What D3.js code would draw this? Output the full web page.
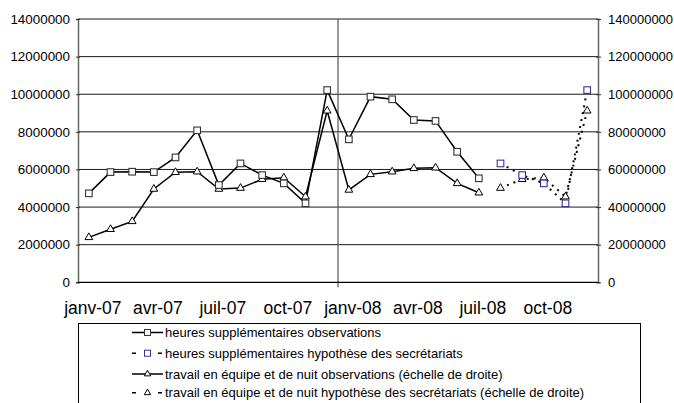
<!DOCTYPE html>
<html>
<head>
<meta charset="utf-8">
<script src="https://cdn.jsdelivr.net/npm/d3@7"></script>
<style>
  body { margin: 0; background: #fff; }
  svg { font-family: "Liberation Sans", Arial, sans-serif; }
</style>
</head>
<body>
<svg id="chart" width="674" height="403"></svg>
<script>
// ---------------------------//
//            DATA            //
// ---------------------------//

var months = ["janv-07", "févr-07", "mars-07", "avr-07", "mai-07", "juin-07",
              "juil-07", "août-07", "sept-07", "oct-07", "nov-07", "déc-07",
              "janv-08", "févr-08", "mars-08", "avr-08", "mai-08", "juin-08",
              "juil-08", "août-08", "sept-08", "oct-08", "nov-08", "déc-08"];

var tickLabels = ["janv-07", "avr-07", "juil-07", "oct-07", "janv-08", "avr-08", "juil-08", "oct-08"];

// heures supplémentaires (left scale)
var heuresObs = [4730000, 5860000, 5880000, 5860000, 6640000, 8080000, 5170000, 6320000,
                 5700000, 5260000, 4200000, 10220000, 7600000, 9870000, 9730000, 8630000,
                 8580000, 6940000, 5530000, null, null, null, null, null];
var heuresHyp = [null, null, null, null, null, null, null, null, null, null, null, null,
                 null, null, null, null, null, null, null,
                 6320000, 5700000, 5260000, 4200000, 10220000];

// travail en équipe et de nuit (right scale)
var travailObs = [23900000, 28200000, 32400000, 49600000, 58500000, 58800000, 49600000, 50100000,
                  54800000, 55600000, 45500000, 91200000, 49100000, 57400000, 58800000, 60600000,
                  60900000, 52600000, 47600000, null, null, null, null, null];
var travailHyp = [null, null, null, null, null, null, null, null, null, null, null, null,
                  null, null, null, null, null, null, null,
                  50100000, 54800000, 55600000, 45500000, 91200000];

var leftTicks = [0, 2000000, 4000000, 6000000, 8000000, 10000000, 12000000, 14000000];
var rightTicks = [0, 20000000, 40000000, 60000000, 80000000, 100000000, 120000000, 140000000];

var legendLabels = ["heures supplémentaires observations",
                    "heures supplémentaires hypothèse des secrétariats",
                    "travail en équipe et de nuit observations (échelle de droite)",
                    "travail en équipe et de nuit hypothèse des secrétariats (échelle de droite)"];

// ---------------------------//
//         DIMENSIONS         //
// ---------------------------//

var plot = { left: 78, right: 598, top: 19, bottom: 282.3 };
var font = "'Liberation Sans', Arial, sans-serif";

var svg = d3.select("#chart");

// ---------------------------//
//       AXIS  AND SCALE      //
// ---------------------------//

var x = d3.scaleBand()
    .domain(months)
    .range([plot.left, plot.right])
    .padding(0);
var cx = function(m) { return x(m) + x.bandwidth() / 2; };

var yLeft = d3.scaleLinear().domain([0, 14000000]).range([plot.bottom, plot.top]);
var yRight = d3.scaleLinear().domain([0, 140000000]).range([plot.bottom, plot.top]);

// horizontal gridlines
svg.append("g")
    .selectAll("line")
    .data(leftTicks.slice(1))
    .enter().append("line")
    .attr("x1", plot.left)
    .attr("x2", plot.right)
    .attr("y1", d => yLeft(d))
    .attr("y2", d => yLeft(d))
    .attr("stroke", "#1a1a1a")
    .attr("stroke-width", 1);

// vertical gridline (janv-08)
svg.append("line")
    .attr("x1", x(months[12]))
    .attr("x2", x(months[12]))
    .attr("y1", plot.top)
    .attr("y2", plot.bottom + 5)
    .attr("stroke", "#555")
    .attr("stroke-width", 1.2);

// left axis
var gLeft = svg.append("g")
    .attr("transform", "translate(" + plot.left + ",0)")
    .call(d3.axisLeft(yLeft).tickValues(leftTicks).tickFormat(d3.format("d")).tickSize(2).tickPadding(6));
gLeft.attr("font-family", font);
gLeft.select(".domain").attr("stroke", "#666").attr("stroke-width", 1.5);
gLeft.selectAll(".tick line").attr("x1", 2).attr("x2", -2).attr("stroke", "#333");
gLeft.selectAll("text").style("font-size", "13.4px").attr("fill", "#000");

// right axis
var gRight = svg.append("g")
    .attr("transform", "translate(" + plot.right + ",0)")
    .call(d3.axisRight(yRight).tickValues(rightTicks).tickFormat(d3.format("d")).tickSize(2).tickPadding(8));
gRight.attr("font-family", font);
gRight.select(".domain").attr("stroke", "#666").attr("stroke-width", 1.5);
gRight.selectAll(".tick line").attr("x1", -2).attr("x2", 3).attr("stroke", "#333");
gRight.selectAll("text").style("font-size", "13px").attr("fill", "#000");

// bottom axis line
svg.append("line")
    .attr("x1", plot.left)
    .attr("x2", plot.right)
    .attr("y1", plot.bottom)
    .attr("y2", plot.bottom)
    .attr("stroke", "#000")
    .attr("stroke-width", 1.2);

// x tick labels, every 3 months
svg.append("g")
    .selectAll("text")
    .data(tickLabels)
    .enter().append("text")
    .attr("x", d => cx(d) + 4)
    .attr("y", 314)
    .attr("text-anchor", "middle")
    .style("font-size", "17.5px")
    .text(d => d);

// ---------------------------//
//           DRAWING          //
// ---------------------------//

function series(values) {
    return months.map((m, i) => ({ m: m, v: values[i] })).filter(d => d.v !== null);
}

function drawLine(values, yScale, dashed) {
    var line = d3.line().x(d => cx(d.m)).y(d => yScale(d.v));
    svg.append("path")
        .datum(series(values))
        .attr("d", line)
        .attr("fill", "none")
        .attr("stroke", "#000")
        .attr("stroke-width", dashed ? 2 : 1.5)
        .attr("stroke-dasharray", dashed ? "2,5" : null);
}

function drawSquares(values, yScale, color) {
    svg.append("g")
        .selectAll("rect")
        .data(series(values))
        .enter().append("rect")
        .attr("x", d => cx(d.m) - 3.3)
        .attr("y", d => yScale(d.v) - 3.3)
        .attr("width", 6.6)
        .attr("height", 6.6)
        .attr("fill", "#fff")
        .attr("stroke", color)
        .attr("stroke-width", 1.1);
}

function drawTriangles(values, yScale) {
    svg.append("g")
        .selectAll("path")
        .data(series(values))
        .enter().append("path")
        .attr("transform", d => "translate(" + cx(d.m) + "," + yScale(d.v) + ")")
        .attr("d", d3.symbol(d3.symbolTriangle, 26))
        .attr("fill", "#fff")
        .attr("stroke", "#000")
        .attr("stroke-width", 1);
}

drawLine(heuresObs, yLeft, false);
drawLine(travailObs, yRight, false);
drawLine(heuresHyp, yLeft, true);
drawLine(travailHyp, yRight, true);

drawTriangles(travailObs, yRight);
drawSquares(heuresObs, yLeft, "#333");
drawTriangles(travailHyp, yRight);
drawSquares(heuresHyp, yLeft, "#333399");

// ---------------------------//
//           LEGEND           //
// ---------------------------//

svg.append("rect")
    .attr("x", 78.5)
    .attr("y", 323.5)
    .attr("width", 562)
    .attr("height", 100)
    .attr("fill", "#fff")
    .attr("stroke", "#000")
    .attr("stroke-width", 1);

var rowY = [337, 357.7, 378.5, 397.3];

var legend = svg.append("g")
    .selectAll("g")
    .data(legendLabels)
    .enter().append("g")
    .attr("transform", (d, i) => "translate(0," + rowY[i] + ")");

legend.append("line")
    .attr("x1", 132)
    .attr("x2", 163)
    .attr("y1", -4.5)
    .attr("y2", -4.5)
    .attr("stroke", "#000")
    .attr("stroke-width", 1.5)
    .attr("stroke-dasharray", (d, i) => i % 2 === 1 ? "4,22" : null);

legend.filter((d, i) => i < 2).append("rect")
    .attr("x", 144.5)
    .attr("y", -7.5)
    .attr("width", 6)
    .attr("height", 6)
    .attr("fill", "#fff")
    .attr("stroke", (d, i) => i === 1 ? "#333399" : "#333")
    .attr("stroke-width", 1);

legend.filter((d, i) => i >= 2).append("path")
    .attr("transform", "translate(147.5,-4.5)")
    .attr("d", d3.symbol(d3.symbolTriangle, 18))
    .attr("fill", "#fff")
    .attr("stroke", "#000")
    .attr("stroke-width", 1);

legend.append("text")
    .attr("x", 165)
    .attr("y", 0)
    .style("font-size", "13px")
    .text(d => d);
</script>
</body>
</html>
